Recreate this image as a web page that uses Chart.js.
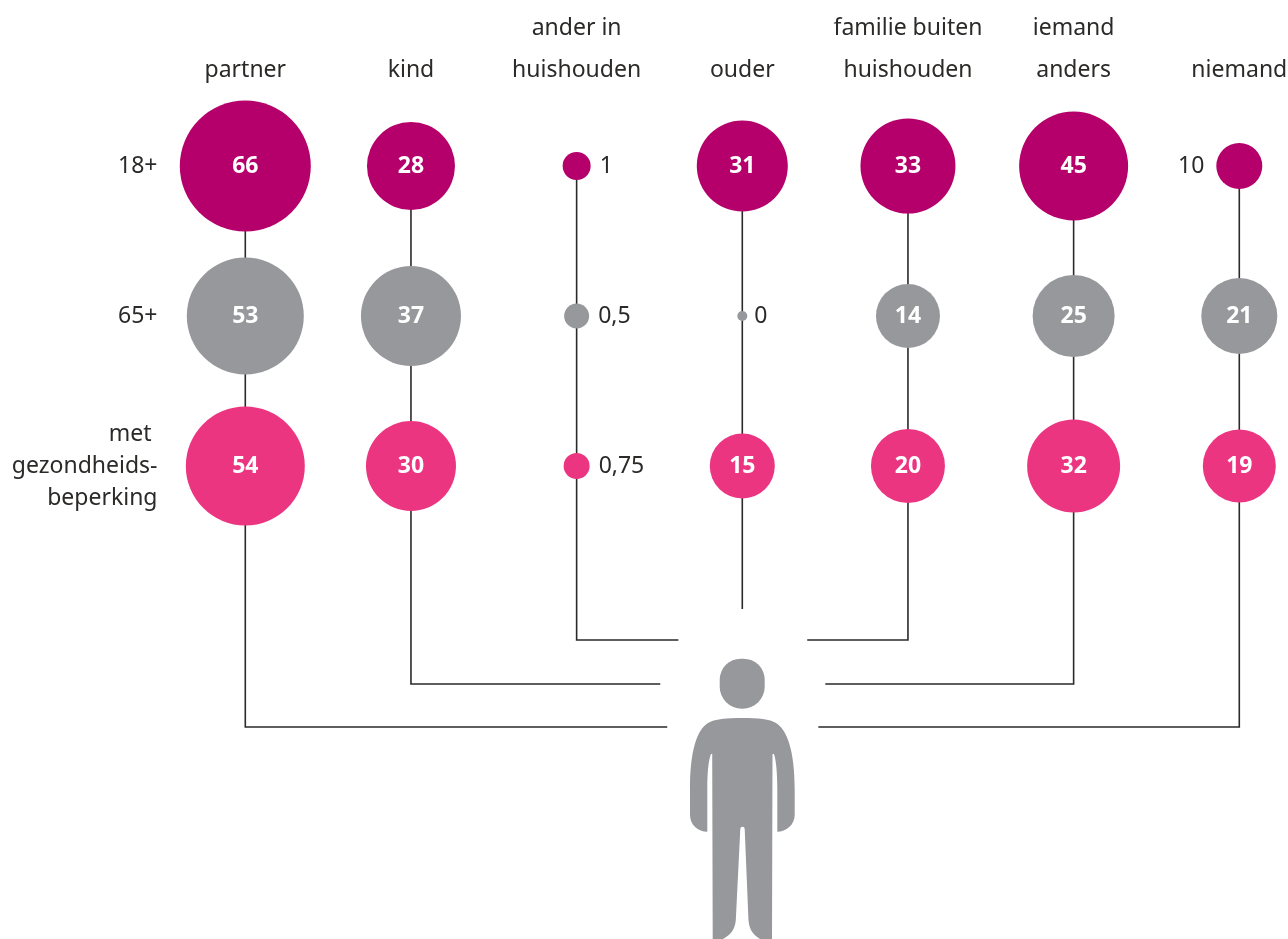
<!DOCTYPE html>
<html lang="nl">
<head>
<meta charset="utf-8">
<title>Mantelzorg</title>
<script src="https://cdn.jsdelivr.net/npm/chart.js@4"></script>
<style>
html,body{margin:0;padding:0;background:#fff;overflow:hidden}
#wrap{position:relative;width:1288px;height:939px}
</style>
</head>
<body>
<div id="wrap"><canvas id="c" width="1288" height="939"></canvas></div>
<script>
// ---- data ----
const categories = [["partner"],["kind"],["ander in","huishouden"],["ouder"],["familie buiten","huishouden"],["iemand","anders"],["niemand"]];
const groups = [["18+"],["65+"],["met ","gezondheids-","beperking"]];
const values18 = [66,28,1,31,33,45,10];
const values65 = [53,37,0.5,0,14,25,21];
const valuesHealth = [54,30,0.75,15,20,32,19];

// ---- styling (drawn sizes as in the reference, not data) ----
const radii18 = [65.5,44,14,45.5,47.5,54.5,23];
const radii65 = [58.5,50,12.5,5,32,41,38];
const radiiHealth = [59.5,45,13,32.5,37,46.5,36.5];
const colors = ["#b5006b","#97989c","#ec3581"];
const ink = "#2b2a29";
const fontFamily = '"Noto Sans", sans-serif';

const mk = (label, vals, radii, row, color) => ({
  type:"bubble", label, order:1, clip:false,
  backgroundColor:color, borderWidth:0, hoverBorderWidth:0,
  data: vals.map((v,i)=>({x:i,y:row,r:radii[i],v}))
});
const conn = pts => ({
  type:"line", order:5, clip:false, borderColor:ink, borderWidth:1.6,
  pointRadius:0, fill:false, tension:0, data:pts.map(([x,y])=>({x,y}))
});
// connector routes from the bubble columns to the person, in scale units
const routes = [
  [[0,0],[0,3.74],[2.547,3.74]],
  [[3.459,3.74],[6,3.74],[6,0]],
  [[1,0],[1,3.453],[2.505,3.453]],
  [[3.501,3.453],[5,3.453],[5,0]],
  [[2,0],[2,3.16],[2.614,3.16]],
  [[3.392,3.16],[4,3.16],[4,0]],
  [[3,0],[3,2.953]]
];

const fmt = v => String(v).replace(".",",");
const valueLabels = {
  id:"valueLabels",
  afterDatasetsDraw(chart){
    const ctx = chart.ctx;
    ctx.save();
    ctx.textBaseline = "middle";
    chart.data.datasets.forEach((ds,di)=>{
      if(ds.type!=="bubble") return;
      const meta = chart.getDatasetMeta(di);
      ds.data.forEach((d,i)=>{
        const el = meta.data[i];
        if(d.v>10 ){
          ctx.font = '700 23px '+fontFamily; ctx.fillStyle="#fff"; ctx.textAlign="center";
          ctx.fillText(fmt(d.v), el.x, el.y+0.5);
        } else if(d.v===10){
          ctx.font = '400 23px '+fontFamily; ctx.fillStyle=ink; ctx.textAlign="right";
          ctx.fillText(fmt(d.v), el.x-d.r-12, el.y);
        } else {
          ctx.font = '400 23px '+fontFamily; ctx.fillStyle=ink; ctx.textAlign="left";
          ctx.fillText(fmt(d.v), el.x+d.r+(d.v===0?7:9), el.y);
        }
      });
    });
    ctx.restore();
  }
};
const person = {
  id:"person",
  afterDraw(chart){
    const ctx = chart.ctx;
    ctx.save();
    ctx.fillStyle = colors[1];
    ctx.beginPath();
    ctx.roundRect(719.7,658.7,45,50,[21,21,22,22]);
    ctx.fill();
    const p = new Path2D();
    p.moveTo(742.3,718);
    p.bezierCurveTo(758,718,770,719,776,723);
    p.bezierCurveTo(787,730,794.7,750,794.7,790);
    p.lineTo(794.7,815);
    p.bezierCurveTo(794.7,825,786,831.7,777.3,831.7);
    p.lineTo(777.3,790);
    p.bezierCurveTo(777.3,772,776,760,774,754);
    p.lineTo(772.5,754);
    p.lineTo(772,939);
    p.lineTo(760,939);
    p.bezierCurveTo(752,934,748.3,928,748.3,916);
    p.lineTo(744.7,829);
    p.bezierCurveTo(744.5,826,740.5,826,740.3,829);
    p.lineTo(736,916);
    p.bezierCurveTo(736,928,732,934,723,939);
    p.lineTo(712.7,939);
    p.lineTo(712.2,754);
    p.lineTo(711,754);
    p.bezierCurveTo(708.5,760,707.3,772,707.3,790);
    p.lineTo(707.3,831.7);
    p.bezierCurveTo(698,831.7,690,825,690,815);
    p.lineTo(690,790);
    p.bezierCurveTo(690,750,697,730,708,723);
    p.bezierCurveTo(714,719,727,718,742.3,718);
    p.closePath();
    ctx.fill(p);
    ctx.restore();
  }
};
const noMargins = s => { s.paddingLeft = s.paddingRight = s.paddingTop = s.paddingBottom = 0; };

new Chart(document.getElementById("c"),{
  data:{datasets:[
    mk("18+",values18,radii18,0,colors[0]),
    mk("65+",values65,radii65,1,colors[1]),
    mk("met gezondheidsbeperking",valuesHealth,radiiHealth,2,colors[2]),
    ...routes.map(conn)
  ]},
  plugins:[valueLabels,person],
  options:{
    responsive:false, animation:false, events:[],
    layout:{padding:0,autoPadding:false},
    plugins:{legend:{display:false},tooltip:{enabled:false}},
    scales:{
      x:{
        type:"linear", position:"top",
        min:-0.4666, max:6.2940,
        grid:{display:false,drawTicks:false}, border:{display:false},
        afterBuildTicks(s){ s.ticks = categories.map((_,i)=>({value:i})); },
        afterFit(s){ s.height = 92; noMargins(s); },
        ticks:{
          autoSkip:false, maxRotation:0, minRotation:0, padding:1,
          color:ink, font:{family:fontFamily,size:23,lineHeight:"42px"},
          callback:(v)=>categories[v]
        }
      },
      y:{
        type:"linear", position:"left", reverse:true,
        min:-0.4933, max:5.1533,
        grid:{display:false,drawTicks:false}, border:{display:false},
        afterBuildTicks(s){ s.ticks = groups.map((_,i)=>({value:i})); },
        afterFit(s){ s.width = 168; noMargins(s); },
        ticks:{
          autoSkip:false, padding:10.5,
          color:ink, font:{family:fontFamily,size:23,lineHeight:"32px"},
          callback:(v)=>groups[v]
        }
      }
    }
  }
});
</script>
</body>
</html>
